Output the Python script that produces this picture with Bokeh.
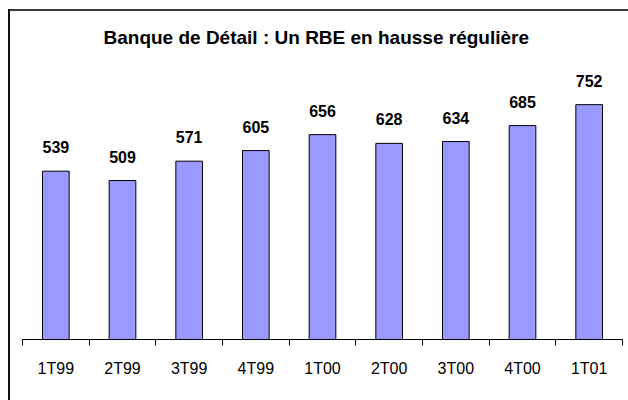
from bokeh.plotting import figure
from bokeh.models import Range1d, FixedTicker, ColumnDataSource, Title, LinearAxis
from bokeh.core.properties import value
from bokeh.embed import file_html
from bokeh.resources import INLINE

categories = ["1T99", "2T99", "3T99", "4T99", "1T00", "2T00", "3T00", "4T00", "1T01"]
rbe = [539, 509, 571, 605, 656, 628, 634, 685, 752]
title_text = "Banque de Détail : Un RBE en hausse régulière"

centers = [i + 0.5 for i in range(len(categories))]
bounds = [float(i) for i in range(len(categories) + 1)]

src = ColumnDataSource(dict(x=centers, y=rbe, lab=[str(v) for v in rbe]))

p = figure(width=620, height=391, output_backend="svg", toolbar_location=None,
           x_range=Range1d(0, len(categories)), y_range=Range1d(0, 887),
           min_border_left=14, min_border_right=6, min_border_top=51, min_border_bottom=61)

p.title = Title(text=title_text, align="left", offset=81, standoff=30,
                text_font="Liberation Sans", text_font_size="19px", text_font_style="bold",
                text_color="#000000")

p.vbar(x="x", top="y", width=0.4, bottom=0, source=src,
       fill_color="#9999FF", line_color="#000000", line_width=1)

p.text(x="x", y="y", text="lab", source=src, text_align="center", text_baseline="alphabetic",
       y_offset=-24, text_font=value("Liberation Sans"), text_font_size="16px",
       text_font_style="bold", text_color="#000000")

# axis with tick marks at category boundaries
ax = p.xaxis[0]
ax.ticker = FixedTicker(ticks=bounds)
ax.major_label_overrides = {b: "" for b in bounds}
ax.major_label_text_font_size = "1px"
ax.major_label_standoff = 0
ax.major_tick_out = 6
ax.major_tick_in = 0
ax.major_tick_line_color = "#000000"
ax.minor_tick_out = 0
ax.minor_tick_in = 0
ax.axis_line_color = "#000000"

# label axis with category names at bar centres
lab_ax = LinearAxis(ticker=FixedTicker(ticks=centers),
                    major_label_overrides={c: t for c, t in zip(centers, categories)},
                    axis_line_color=None, major_tick_line_color=None, minor_tick_line_color=None,
                    major_tick_out=0, major_tick_in=0, minor_tick_out=0, minor_tick_in=0,
                    major_label_standoff=14,
                    major_label_text_font="Liberation Sans",
                    major_label_text_font_size="16px",
                    major_label_text_color="#000000")
p.add_layout(lab_ax, "below")

p.yaxis.visible = False
p.xgrid.visible = False
p.ygrid.visible = False
p.outline_line_color = None
p.background_fill_alpha = 0
p.border_fill_alpha = 0
p.styles = {
    "margin-left": "8px",
    "margin-top": "9px",
    "background-color": "#ffffff",
    "box-shadow": "inset 2px 0 0 0 #111111, inset 0 2px 0 0 #3a3a3a",
}

open("out.html", "w").write(file_html(p, INLINE))
